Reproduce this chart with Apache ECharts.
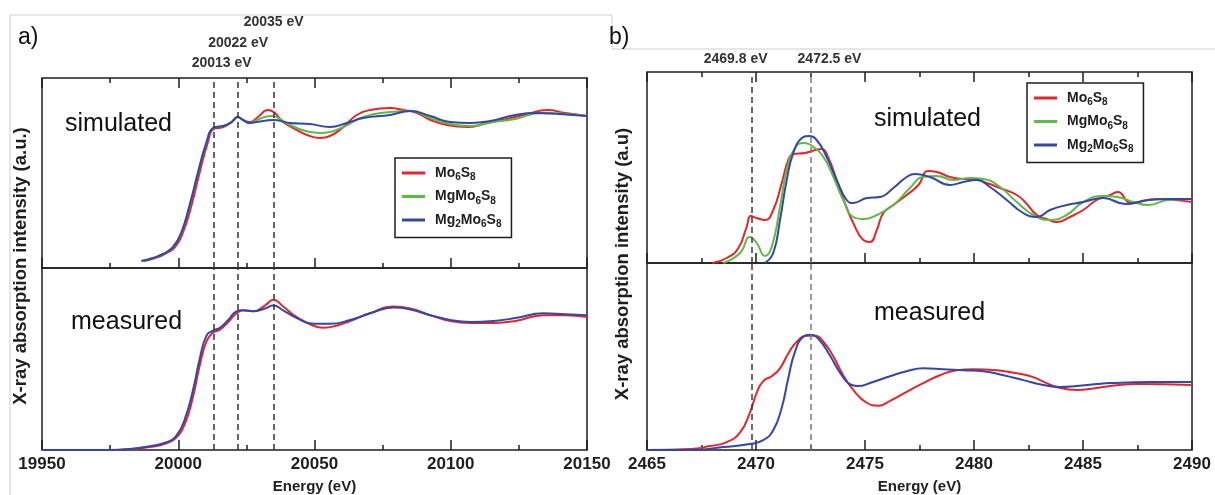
<!DOCTYPE html>
<html>
<head>
<meta charset="utf-8">
<script src="https://cdn.jsdelivr.net/npm/echarts@6/dist/echarts.min.js"></script>
<style>
  html, body { margin: 0; padding: 0; background: #fff; }
  #chart { width: 1215px; height: 495px; }
</style>
</head>
<body>
<div id="chart"></div>
<script>
// Mo K-edge (panel a), simulated
const aSimMo6S8 = [[19987.5, 0.07], [19991.5, 0.10], [19995, 0.14], [19998.8, 0.21], [20001.8, 0.36], [20004.8, 0.62], [20007.8, 0.95], [20010.8, 1.25], [20013, 1.39], [20016.5, 1.41], [20019.6, 1.46], [20021.8, 1.51], [20023.8, 1.48], [20026.3, 1.46], [20028.8, 1.50], [20033, 1.58], [20035.5, 1.55], [20038.5, 1.46], [20043.5, 1.38], [20048.3, 1.32], [20052, 1.30], [20055.7, 1.32], [20060.6, 1.41], [20065.5, 1.53], [20070.4, 1.58], [20077.8, 1.60], [20082.6, 1.58], [20087.6, 1.55], [20092.5, 1.48], [20098.6, 1.43], [20106, 1.41], [20113.3, 1.45], [20120.7, 1.49], [20128, 1.54], [20135.5, 1.58], [20142, 1.55], [20150, 1.52]]
const aSimMgMo6S8 = [[19986.5, 0.07], [19990.7, 0.10], [19994.4, 0.14], [19998.1, 0.21], [20001.2, 0.36], [20004.2, 0.63], [20007.3, 0.96], [20010.4, 1.26], [20012.8, 1.40], [20016.5, 1.42], [20019.6, 1.46], [20021.8, 1.51], [20023.8, 1.48], [20026.3, 1.45], [20028.8, 1.48], [20034, 1.52], [20041, 1.43], [20048.3, 1.36], [20053, 1.35], [20060.6, 1.41], [20067.9, 1.51], [20077.8, 1.56], [20085.1, 1.57], [20092.5, 1.50], [20099.8, 1.44], [20107.2, 1.42], [20115.5, 1.46], [20123.7, 1.49], [20133, 1.55], [20142, 1.54], [20150, 1.52]]
const aSimMg2Mo6S8 = [[19986.5, 0.07], [19990.7, 0.10], [19994.4, 0.14], [19998.1, 0.21], [20001.2, 0.36], [20004.2, 0.63], [20007.3, 0.96], [20010.4, 1.26], [20012.8, 1.40], [20016.5, 1.42], [20019.6, 1.46], [20021.8, 1.51], [20023.8, 1.48], [20026.3, 1.45], [20028.8, 1.46], [20034.9, 1.48], [20041, 1.45], [20048.3, 1.44], [20055.7, 1.41], [20061.8, 1.45], [20067.9, 1.50], [20077.8, 1.53], [20085.1, 1.57], [20092.5, 1.52], [20099.8, 1.46], [20107.2, 1.45], [20114.5, 1.47], [20123.7, 1.53], [20131, 1.55], [20140, 1.54], [20150, 1.52]]

// Mo K-edge (panel a), measured
const aMeasMo6S8 = [[19950, 0.00], [19974.8, 0.00], [19982.2, 0.01], [19989.5, 0.03], [19995.7, 0.07], [19999.3, 0.13], [20002.4, 0.27], [20005.4, 0.55], [20007.9, 0.88], [20010.4, 1.13], [20012.8, 1.22], [20015.3, 1.25], [20018.3, 1.33], [20021.4, 1.42], [20023.8, 1.45], [20027.5, 1.44], [20031.8, 1.50], [20034.9, 1.56], [20038.5, 1.49], [20043.5, 1.38], [20049.6, 1.29], [20053.2, 1.27], [20058, 1.29], [20063.1, 1.34], [20070.4, 1.42], [20079, 1.49], [20085.1, 1.47], [20092.5, 1.40], [20099.8, 1.34], [20107.2, 1.32], [20115.7, 1.32], [20123.7, 1.34], [20134, 1.40], [20142, 1.40], [20150, 1.38]]
const aMeasMg2Mo6S8 = [[19950, 0.00], [19974.8, 0.00], [19982.2, 0.01], [19989.5, 0.04], [19995.7, 0.08], [19999.3, 0.15], [20002.4, 0.32], [20005.4, 0.62], [20007.9, 0.95], [20010.4, 1.19], [20012.8, 1.24], [20015.3, 1.27], [20018.3, 1.35], [20021.4, 1.44], [20023.8, 1.45], [20027.5, 1.44], [20031.8, 1.47], [20034.9, 1.50], [20038.5, 1.45], [20043.5, 1.37], [20049.6, 1.31], [20055.7, 1.31], [20063.1, 1.35], [20070.4, 1.42], [20079, 1.48], [20085.1, 1.46], [20092.5, 1.40], [20099.8, 1.35], [20107.2, 1.33], [20115.7, 1.34], [20123.7, 1.37], [20134, 1.42], [20142, 1.41], [20150, 1.40]]

// S K-edge (panel b), simulated
const bSimMo6S8 = [[2468.0, 0.00], [2468.66, 0.05], [2469.19, 0.15], [2469.57, 0.36], [2469.76, 0.47], [2470.03, 0.45], [2470.41, 0.43], [2470.79, 0.53], [2471.18, 0.80], [2471.48, 1.03], [2471.71, 1.09], [2472.25, 1.10], [2472.71, 1.13], [2473.01, 1.14], [2473.32, 1.05], [2473.70, 0.83], [2474.08, 0.60], [2474.46, 0.40], [2474.92, 0.23], [2475.23, 0.21], [2475.54, 0.33], [2475.84, 0.50], [2476.30, 0.58], [2476.91, 0.68], [2477.45, 0.78], [2477.90, 0.92], [2478.29, 0.91], [2478.90, 0.86], [2479.51, 0.84], [2479.97, 0.84], [2480.58, 0.80], [2481.19, 0.75], [2481.96, 0.68], [2482.34, 0.61], [2482.88, 0.48], [2483.33, 0.44], [2483.79, 0.41], [2484.40, 0.46], [2485.01, 0.53], [2485.63, 0.63], [2486.24, 0.68], [2486.6, 0.71], [2487.2, 0.60], [2488.4, 0.64], [2489.2, 0.63], [2490, 0.61]]
const bSimMgMo6S8 = [[2468.5, 0.00], [2469.27, 0.10], [2469.72, 0.26], [2470.03, 0.20], [2470.41, 0.07], [2470.72, 0.16], [2471.1, 0.56], [2471.41, 0.93], [2471.79, 1.15], [2472.17, 1.20], [2472.63, 1.16], [2473.09, 1.06], [2473.55, 0.86], [2474.0, 0.63], [2474.46, 0.46], [2474.92, 0.44], [2475.54, 0.48], [2476.30, 0.58], [2477.06, 0.75], [2477.67, 0.86], [2478.29, 0.87], [2479.05, 0.83], [2479.82, 0.85], [2480.43, 0.84], [2481.19, 0.76], [2481.96, 0.61], [2482.72, 0.48], [2483.49, 0.43], [2484.25, 0.48], [2485.01, 0.61], [2485.9, 0.67], [2486.6, 0.66], [2487.3, 0.61], [2488.0, 0.58], [2488.9, 0.63], [2490, 0.64]]
const bSimMg2Mo6S8 = [[2470.4, 0.00], [2470.79, 0.10], [2471.1, 0.43], [2471.41, 0.83], [2471.71, 1.10], [2472.10, 1.25], [2472.40, 1.27], [2472.78, 1.23], [2473.24, 1.06], [2473.70, 0.83], [2474.16, 0.63], [2474.46, 0.60], [2475.08, 0.65], [2475.69, 0.66], [2476.30, 0.75], [2476.91, 0.86], [2477.29, 0.89], [2477.98, 0.86], [2478.90, 0.78], [2479.51, 0.81], [2480.12, 0.83], [2480.73, 0.76], [2481.50, 0.63], [2482.26, 0.50], [2482.88, 0.46], [2483.49, 0.53], [2484.25, 0.58], [2485.01, 0.61], [2485.93, 0.65], [2486.95, 0.59], [2488.0, 0.63], [2489, 0.64], [2490, 0.64]]

// S K-edge (panel b), measured
const bMeasMo6S8 = [[2465, 0.00], [2467, 0.01], [2467.89, 0.04], [2468.66, 0.08], [2469.27, 0.18], [2469.72, 0.38], [2470.03, 0.58], [2470.33, 0.70], [2470.72, 0.75], [2471.1, 0.83], [2471.48, 0.98], [2471.87, 1.10], [2472.33, 1.16], [2472.71, 1.16], [2473.09, 1.10], [2473.55, 0.95], [2474.0, 0.76], [2474.46, 0.61], [2475.08, 0.48], [2475.61, 0.45], [2476.15, 0.50], [2476.91, 0.59], [2477.67, 0.68], [2478.44, 0.76], [2479.21, 0.81], [2479.97, 0.82], [2481.04, 0.81], [2481.96, 0.78], [2482.72, 0.74], [2483.33, 0.68], [2483.94, 0.63], [2484.71, 0.61], [2485.63, 0.63], [2486.24, 0.65], [2487.5, 0.67], [2490, 0.66]]
const bMeasMg2Mo6S8 = [[2465, 0.00], [2467, 0.00], [2468.5, 0.03], [2469.72, 0.06], [2470.33, 0.10], [2470.79, 0.20], [2471.18, 0.43], [2471.48, 0.73], [2471.79, 1.00], [2472.17, 1.15], [2472.48, 1.17], [2472.86, 1.13], [2473.39, 0.96], [2473.93, 0.76], [2474.39, 0.66], [2474.69, 0.65], [2475.23, 0.68], [2476.15, 0.75], [2476.91, 0.80], [2477.67, 0.83], [2478.59, 0.82], [2479.51, 0.81], [2480.43, 0.80], [2481.35, 0.76], [2482.26, 0.71], [2483.18, 0.66], [2483.94, 0.64], [2484.71, 0.65], [2485.63, 0.67], [2486.24, 0.68], [2488, 0.69], [2490, 0.69]]

const aEdgeLines = [20013, 20022, 20035]
const bEdgeLines = [2469.8, 2472.5]

const compounds = ['Mo6S8', 'MgMo6S8', 'Mg2Mo6S8']
const colors = {Mo6S8: '#e3262b', MgMo6S8: '#5cbb45', Mg2Mo6S8: '#3447a6'}
const formulas = {
  Mo6S8: '{n|Mo}{s|6}{n|S}{s|8}',
  MgMo6S8: '{n|MgMo}{s|6}{n|S}{s|8}',
  Mg2Mo6S8: '{n|Mg}{s|2}{n|Mo}{s|6}{n|S}{s|8}'
}

const FONT = 'Liberation Sans, Arial, sans-serif'
const INK = '#1e1e1e'

function energyAxis (gridIndex, position, min, max, interval, withLabels) {
  return {
    type: 'value',
    gridIndex: gridIndex,
    position: position,
    min: min,
    max: max,
    interval: interval,
    axisLine: {show: false},
    splitLine: {show: false},
    axisTick: {show: true, inside: true, length: 10, lineStyle: {color: INK, width: 1.5}},
    minorTick: {show: true, splitNumber: 2, length: 5, lineStyle: {color: INK, width: 1.5}},
    axisLabel: {
      show: withLabels,
      margin: 6,
      fontSize: 17,
      fontWeight: 'bold',
      fontFamily: FONT,
      color: INK,
      formatter: v => String(v)
    },
    name: withLabels ? 'Energy (eV)' : '',
    nameLocation: 'middle',
    nameGap: 29,
    nameTextStyle: {fontSize: 15, fontWeight: 'bold', fontFamily: FONT, color: INK}
  }
}

function intensityAxis (gridIndex, max) {
  return {type: 'value', gridIndex: gridIndex, min: 0, max: max, show: false}
}

function curve (name, data, xIdx, yIdx) {
  return {
    type: 'line',
    name: name,
    data: data,
    xAxisIndex: xIdx,
    yAxisIndex: yIdx,
    showSymbol: false,
    smooth: 0.5,
    lineStyle: {width: 2, color: colors[name]},
    itemStyle: {color: colors[name]},
    z: 3
  }
}

function edgeMarks (values, labels, labelStyles, lineColors) {
  return {
    silent: true,
    symbol: 'none',
    animation: false,
    lineStyle: {type: [6, 4], width: 1.5, color: '#333'},
    label: {
      show: labels,
      position: 'end',
      fontSize: 14,
      fontWeight: 'bold',
      fontFamily: FONT,
      color: '#333',
      formatter: p => p.value + ' eV'
    },
    data: values.map((v, i) => {
      const item = {xAxis: v}
      if (labelStyles) item.label = labelStyles[i]
      if (lineColors) item.lineStyle = {color: lineColors[i]}
      return item
    })
  }
}

function legendBox (left, top) {
  return {
    data: compounds,
    orient: 'vertical',
    left: left,
    top: top,
    icon: 'rect',
    itemWidth: 23,
    itemHeight: 3,
    itemGap: 7,
    padding: [8, 10, 8, 7],
    borderColor: INK,
    borderWidth: 1.5,
    backgroundColor: '#fff',
    selectedMode: false,
    formatter: name => formulas[name],
    textStyle: {
      padding: [0, 0, 0, 5],
      rich: {
        n: {fontSize: 14, fontWeight: 'bold', fontFamily: FONT, color: INK},
        s: {fontSize: 10, fontWeight: 'bold', fontFamily: FONT, color: INK, padding: [9, 0, 0, 0]}
      }
    }
  }
}

function word (text, x, y, size) {
  return {
    type: 'text',
    x: x,
    y: y,
    style: {text: text, fontSize: size, fontFamily: FONT, fill: '#111', textVerticalAlign: 'middle'}
  }
}

function yTitle (text, x, y) {
  return {
    type: 'text',
    x: x,
    y: y,
    rotation: Math.PI / 2,
    style: {
      text: text, fontSize: 18.5, fontWeight: 'bold', fontFamily: FONT, fill: INK,
      textAlign: 'center', textVerticalAlign: 'middle'
    }
  }
}

function rule (x1, y1, x2, y2) {
  return {type: 'line', shape: {x1: x1, y1: y1, x2: x2, y2: y2}, style: {stroke: '#cfcfcf', lineWidth: 1}, silent: true}
}

const frame = {show: true, borderColor: INK, borderWidth: 1.5, backgroundColor: 'transparent'}

const option = {
  animation: false,
  backgroundColor: '#fff',
  grid: [
    Object.assign({left: 42, width: 545, top: 78, height: 190}, frame),
    Object.assign({left: 42, width: 545, top: 268, height: 189}, frame),
    Object.assign({left: 647, width: 545, top: 72, height: 191}, frame),
    Object.assign({left: 647, width: 545, top: 263, height: 190}, frame)
  ],
  xAxis: [
    energyAxis(0, 'bottom', 19950, 20150, 50, false),
    energyAxis(0, 'top', 19950, 20150, 50, false),
    energyAxis(1, 'bottom', 19950, 20150, 50, true),
    energyAxis(2, 'bottom', 2465, 2490, 5, false),
    energyAxis(2, 'top', 2465, 2490, 5, false),
    energyAxis(3, 'bottom', 2465, 2490, 5, true)
  ],
  yAxis: [
    intensityAxis(0, 1.90),
    intensityAxis(1, 1.89),
    intensityAxis(2, 1.91),
    intensityAxis(3, 1.90)
  ],
  legend: [legendBox(395, 158), legendBox(1027, 83)],
  series: [
    Object.assign(curve('Mo6S8', aSimMo6S8, 0, 0), {
      markLine: edgeMarks(aEdgeLines, true, [
        {distance: 8, padding: [0, 0, 0, 16]},
        {distance: 28},
        {distance: 49}
      ])
    }),
    curve('MgMo6S8', aSimMgMo6S8, 0, 0),
    curve('Mg2Mo6S8', aSimMg2Mo6S8, 0, 0),
    Object.assign(curve('Mo6S8', aMeasMo6S8, 2, 1), {markLine: edgeMarks(aEdgeLines, false)}),
    curve('Mg2Mo6S8', aMeasMg2Mo6S8, 2, 1),
    Object.assign(curve('Mo6S8', bSimMo6S8, 3, 2), {
      markLine: edgeMarks(bEdgeLines, true, [
        {distance: 6, padding: [0, 32, 0, 0]},
        {distance: 6, padding: [0, 0, 0, 38]}
      ], ['#3a3a3a', '#7a7a7a'])
    }),
    curve('MgMo6S8', bSimMgMo6S8, 3, 2),
    curve('Mg2Mo6S8', bSimMg2Mo6S8, 3, 2),
    Object.assign(curve('Mo6S8', bMeasMo6S8, 5, 3), {markLine: edgeMarks(bEdgeLines, false, null, ['#3a3a3a', '#7a7a7a'])}),
    curve('Mg2Mo6S8', bMeasMg2Mo6S8, 5, 3)
  ],
  graphic: [
    rule(10, 15, 612, 15),
    rule(10, 15, 10, 495),
    rule(612, 15, 612, 49),
    rule(612, 49, 1215, 49),
    word('a)', 18, 38, 23),
    word('b)', 609, 38, 23),
    word('simulated', 65, 124, 25),
    word('measured', 71, 322, 25),
    word('simulated', 874, 119, 25),
    word('measured', 874, 313, 25),
    yTitle('X-ray absorption intensity (a.u.)', 21, 266),
    yTitle('X-ray absorption intensity (a.u)', 623, 264)
  ]
}

const chart = echarts.init(document.getElementById('chart'))
chart.setOption(option)
</script>
</body>
</html>
